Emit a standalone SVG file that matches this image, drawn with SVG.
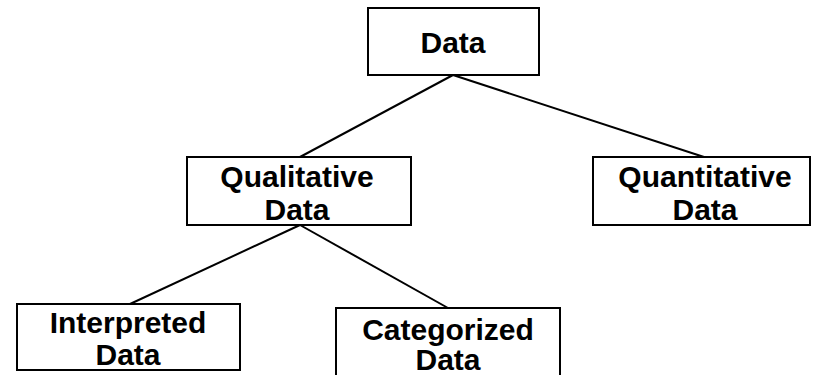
<svg xmlns="http://www.w3.org/2000/svg" width="821" height="375" viewBox="0 0 821 375">
<style>
.box{fill:#fff;stroke:#000;stroke-width:2}
.t{font-family:"Liberation Sans",Arial,sans-serif;font-weight:bold;font-size:30px;text-anchor:middle;fill:#000}
.c{stroke:#000;stroke-width:2;fill:none}
</style>
<rect width="821" height="375" fill="#fff"/>
<g id="connectors">
<line class="c" x1="453" y1="75" x2="300" y2="157"/>
<line class="c" x1="453" y1="75" x2="704" y2="157"/>
<line class="c" x1="300" y1="225" x2="130" y2="304"/>
<line class="c" x1="300" y1="225" x2="448" y2="308"/>
</g>
<g id="data">
<rect class="box" x="368" y="8" width="171" height="67"/>
<text class="t" x="453" y="53">Data</text>
</g>
<g id="qualitative">
<rect class="box" x="187" y="157" width="224" height="68"/>
<text class="t" x="297" y="187">Qualitative</text>
<text class="t" x="297" y="220">Data</text>
</g>
<g id="quantitative">
<rect class="box" x="593" y="157" width="217" height="68"/>
<text class="t" x="705" y="187">Quantitative</text>
<text class="t" x="705" y="220">Data</text>
</g>
<g id="interpreted">
<rect class="box" x="17" y="304" width="223" height="66"/>
<text class="t" x="128" y="333">Interpreted</text>
<text class="t" x="128" y="365">Data</text>
</g>
<g id="categorized">
<rect class="box" x="336" y="308" width="224" height="70"/>
<text class="t" x="448" y="340">Categorized</text>
<text class="t" x="448" y="370">Data</text>
</g>
</svg>
